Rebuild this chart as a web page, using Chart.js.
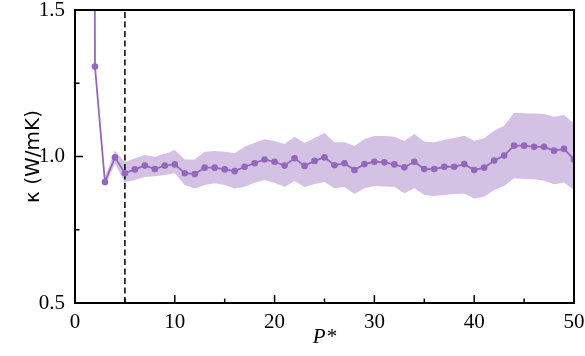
<!DOCTYPE html>
<html>
<head>
<meta charset="utf-8">
<script src="https://cdn.jsdelivr.net/npm/chart.js@4/dist/chart.umd.min.js"></script>
<style>
html,body{margin:0;padding:0;background:#fff;}
#wrap{width:585px;height:356px;}
</style>
</head>
<body>
<div id="wrap"><canvas id="c" width="585" height="356"></canvas></div>
<script>
// P* values
const P = [1,2,3,4,5,6,7,8,9,10,11,12,13,14,15,16,17,18,19,20,21,22,23,24,25,26,27,28,29,30,31,32,33,34,35,36,37,38,39,40,41,42,43,44,45,46,47,48,49,50];
// kappa (W/mK) mean values
const kappa = [15.0,1.307,0.913,0.997,0.943,0.956,0.969,0.957,0.969,0.973,0.943,0.940,0.962,0.962,0.956,0.950,0.965,0.977,0.990,0.982,0.969,0.994,0.968,0.985,0.997,0.970,0.977,0.954,0.974,0.982,0.980,0.973,0.963,0.982,0.957,0.957,0.965,0.965,0.974,0.954,0.962,0.986,1.003,1.037,1.037,1.033,1.033,1.020,1.026,0.990];
// uncertainty band (starts at P* = 2)
const bandP = P.slice(1);
const upper = [1.312,0.930,1.020,0.980,0.994,1.005,0.999,1.009,1.022,0.990,0.990,1.016,1.019,1.016,1.011,1.033,1.047,1.059,1.053,1.043,1.067,1.046,1.063,1.080,1.049,1.049,1.036,1.060,1.070,1.070,1.067,1.053,1.077,1.051,1.049,1.056,1.063,1.071,1.054,1.062,1.088,1.105,1.149,1.148,1.147,1.145,1.136,1.142,1.113];
const lower = [1.302,0.898,0.975,0.912,0.920,0.930,0.933,0.937,0.943,0.903,0.891,0.903,0.909,0.903,0.891,0.897,0.910,0.920,0.910,0.896,0.916,0.896,0.906,0.913,0.892,0.896,0.872,0.892,0.899,0.898,0.896,0.875,0.892,0.869,0.865,0.869,0.872,0.874,0.857,0.863,0.886,0.899,0.926,0.923,0.922,0.917,0.905,0.911,0.886];
// vertical marker at P* = 5
const cutP = 5;
const yRange = [0.5, 1.5];
const xRange = [0, 50];
const xTickLabels = [0,10,20,30,40,50];
const yTickLabels = [0.5,1.0,1.5];

const purple = '#9467bd';
const bandColor = 'rgba(148,103,189,0.4)';

const toXY = (xs, ys) => xs.map((x,i)=>({x:x, y:ys[i]}));

const frameTicks = {
  id:'frameTicks',
  afterDraw(chart){
    const {ctx, chartArea:a, scales:{x, y}} = chart;
    ctx.save();
    ctx.strokeStyle = '#000';
    ctx.lineWidth = 1.5;
    ctx.beginPath();
    x.ticks.forEach(t=>{
      const px = x.getPixelForValue(t.value);
      const major = xTickLabels.includes(t.value);
      const len = major ? 8 : 4.5;
      ctx.moveTo(px, a.bottom); ctx.lineTo(px, a.bottom - len);
    });
    y.ticks.forEach(t=>{
      const py = y.getPixelForValue(t.value);
      const major = yTickLabels.some(v=>Math.abs(v-t.value)<1e-9);
      const len = major ? 8 : 4.5;
      ctx.moveTo(a.left, py); ctx.lineTo(a.left + len, py);
    });
    ctx.stroke();
    ctx.lineWidth = 2;
    ctx.strokeRect(a.left, a.top, a.right - a.left, a.bottom - a.top);
    ctx.restore();
  }
};

new Chart(document.getElementById('c'), {
  type:'line',
  data:{
    datasets:[
      {
        data: toXY(P, kappa),
        borderColor: purple, backgroundColor: purple,
        borderWidth: 1.8, pointRadius: 3.3, pointHoverRadius: 3.3,
        pointBorderWidth: 0, fill:false, tension:0
      },
      {
        data: [{x:cutP, y:yRange[0]},{x:cutP, y:yRange[1]}],
        borderColor:'#000', borderWidth:1.5, borderDash:[6,3.5],
        pointRadius:0, fill:false
      },
      {
        data: toXY(bandP, upper),
        borderWidth:0, borderColor:'rgba(0,0,0,0)', pointRadius:0,
        backgroundColor: bandColor, fill:'+1', tension:0
      },
      {
        data: toXY(bandP, lower),
        borderWidth:0, borderColor:'rgba(0,0,0,0)', pointRadius:0,
        fill:false, tension:0
      }
    ]
  },
  options:{
    responsive:false, animation:false, devicePixelRatio:1,
    layout:{padding:{left:0, right:11, top:10, bottom:0}},
    plugins:{legend:{display:false}, tooltip:{enabled:false}},
    scales:{
      x:{
        type:'linear', min:xRange[0], max:xRange[1],
        grid:{display:false, drawTicks:false},
        border:{display:false},
        ticks:{
          stepSize:5, autoSkip:false, maxRotation:0, padding:7, color:'#000',
          font:{family:'Liberation Serif', size:21},
          callback:(v)=> xTickLabels.includes(v) ? String(v) : ''
        },
        title:{display:true, text:'P*', color:'#000',
          font:{family:'Liberation Serif', size:21, style:'italic'},
          padding:{top:0, bottom:6}},
        afterFit:(s)=>{ s.height = 53; s.paddingLeft = 0; s.paddingRight = 0; }
      },
      y:{
        type:'linear', min:yRange[0], max:yRange[1],
        grid:{display:false, drawTicks:false},
        border:{display:false},
        ticks:{
          stepSize:0.25, autoSkip:false, padding:10, color:'#000',
          font:{family:'Liberation Serif', size:21},
          callback:(v)=> yTickLabels.some(t=>Math.abs(t-v)<1e-9) ? v.toFixed(1) : ''
        },
        title:{display:true, text:'κ (W/mK)', color:'#000',
          font:{family:'DejaVu Sans', size:20},
          padding:{top:22, bottom:0}},
        afterFit:(s)=>{ s.width = 75; s.paddingTop = 0; s.paddingBottom = 0; }
      }
    }
  },
  plugins:[frameTicks]
});
</script>
</body>
</html>
